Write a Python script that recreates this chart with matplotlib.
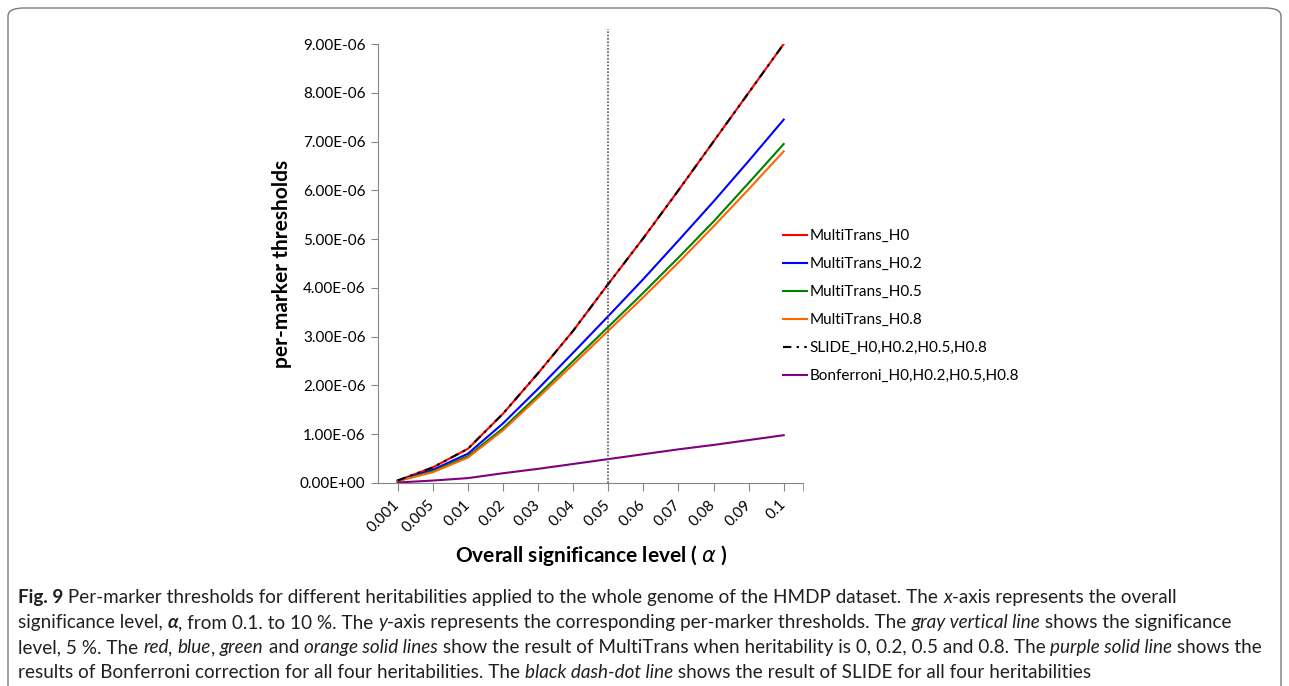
import matplotlib
matplotlib.use('Agg')
import matplotlib.pyplot as plt
from matplotlib.patches import FancyBboxPatch
from matplotlib.ticker import FixedLocator

# categories on the x axis (overall significance level)
alphas = ['0.001', '0.005', '0.01', '0.02', '0.03', '0.04', '0.05',
          '0.06', '0.07', '0.08', '0.09', '0.1']

# per-marker thresholds
multitrans_h0 = [0.05e-6, 0.32e-6, 0.70e-6, 1.42e-6, 2.25e-6, 3.12e-6, 4.08e-6,
                 5.02e-6, 6.00e-6, 7.00e-6, 8.00e-6, 9.00e-6]
multitrans_h02 = [0.05e-6, 0.27e-6, 0.60e-6, 1.22e-6, 1.93e-6, 2.67e-6, 3.42e-6,
                  4.18e-6, 4.97e-6, 5.77e-6, 6.60e-6, 7.45e-6]
multitrans_h05 = [0.04e-6, 0.24e-6, 0.55e-6, 1.12e-6, 1.80e-6, 2.50e-6, 3.20e-6,
                  3.90e-6, 4.62e-6, 5.36e-6, 6.15e-6, 6.95e-6]
multitrans_h08 = [0.04e-6, 0.22e-6, 0.52e-6, 1.08e-6, 1.75e-6, 2.43e-6, 3.12e-6,
                  3.81e-6, 4.52e-6, 5.26e-6, 6.02e-6, 6.80e-6]
slide_all = [0.05e-6, 0.32e-6, 0.70e-6, 1.42e-6, 2.25e-6, 3.12e-6, 4.08e-6,
             5.02e-6, 6.00e-6, 7.00e-6, 8.00e-6, 9.00e-6]
bonferroni_all = [0.01e-6, 0.05e-6, 0.10e-6, 0.20e-6, 0.29e-6, 0.39e-6, 0.49e-6,
                  0.59e-6, 0.69e-6, 0.78e-6, 0.88e-6, 0.98e-6]
yticks = [i * 1e-6 for i in range(10)]

W, H = 1289, 686
fig = plt.figure(figsize=(W / 100, H / 100), dpi=100)
ax = fig.add_axes([378 / W, 1 - 483 / H, (803 - 378) / W, (483 - 44) / H])

chart_font = ['Lato', 'DejaVu Sans']
xs = list(range(len(alphas)))

ax.plot(xs, multitrans_h0, color='#ff0000', lw=1.5, label='MultiTrans_H0')
ax.plot(xs, multitrans_h02, color='#0000ff', lw=1.5, label='MultiTrans_H0.2')
ax.plot(xs, multitrans_h05, color='#008000', lw=1.5, label='MultiTrans_H0.5')
ax.plot(xs, multitrans_h08, color='#ff6600', lw=1.5, label='MultiTrans_H0.8')
ax.plot(xs, slide_all, color='black', lw=1.5, dashes=(4, 2.5, 1.2, 2.5, 1.2, 2.5),
        label='SLIDE_H0,H0.2,H0.5,H0.8')
ax.plot(xs, bonferroni_all, color='#800080', lw=1.5, label='Bonferroni_H0,H0.2,H0.5,H0.8')

# gray vertical line at 5 %
ix = alphas.index('0.05')
ax.plot([ix, ix], [0, 9.3e-6], color='#555555', lw=1.2, ls=(0, (1, 1)), clip_on=False)

ax.set_xlim(-0.56, 11.55)
ax.set_ylim(0, 9e-6)
ax.set_xticks(xs)
ax.xaxis.set_minor_locator(FixedLocator([11.55]))
ax.set_xticklabels(alphas, rotation=45, ha='right', va='center',
                   rotation_mode='anchor', family=chart_font, fontsize=11)
ax.set_yticks(yticks)
ax.set_yticklabels(['{:.2E}'.format(v) for v in yticks], family=chart_font, fontsize=11)

for s in ['top', 'right']:
    ax.spines[s].set_visible(False)
for s in ['left', 'bottom']:
    ax.spines[s].set_color('#868686')
ax.tick_params(axis='both', which='both', color='#868686', direction='out')
ax.tick_params(axis='x', which='both', length=6, pad=8)
ax.tick_params(axis='y', length=5, pad=4)
ax.set_facecolor('none')

ax.set_ylabel('per-marker thresholds', family=chart_font, fontsize=15,
              fontweight='bold', labelpad=6)
fig.text(591 / W, 1 - 555 / H, r'Overall significance level ( $\mathit{\alpha}$ )',
         family=chart_font, fontsize=15, fontweight='bold', ha='center', va='center')

leg = fig.legend(loc='upper left', bbox_to_anchor=(783 / W, 1 - 229 / H),
                 frameon=False, prop={'family': chart_font, 'size': 11},
                 handlelength=1.6, handletextpad=0.15, labelspacing=0.92,
                 borderaxespad=0, borderpad=0)

# rounded frame around figure + caption
frame = FancyBboxPatch((8 / W, -0.05), (1281 - 8) / W, (686 - 8) / H + 0.05,
                       boxstyle='round,pad=0,rounding_size=0.012',
                       transform=fig.transFigure, fill=False, ec='#7a7a7a', lw=1,
                       clip_on=False)
fig.patches.append(frame)

# caption with mixed styles
cap_font = ['Lato', 'DejaVu Sans']
n, b, i = 'normal', 'bold', 'italic'
lines = [
    [('Fig. 9', b, n), (' Per-marker thresholds for different heritabilities applied to the whole genome of the HMDP dataset. The ', n, n),
     ('x', n, i), ('-axis represents the overall', n, n)],
    [('significance level, ', n, n), ('\u03b1', b, i), (', from 0.1. to 10 %. The ', n, n), ('y', n, i),
     ('-axis represents the corresponding per-marker thresholds. The ', n, n), ('gray vertical line', n, i),
     (' shows the significance', n, n)],
    [('level, 5 %. The ', n, n), ('red', n, i), (', ', n, n), ('blue', n, i), (', ', n, n), ('green', n, i),
     (' and ', n, n), ('orange solid lines', n, i),
     (' show the result of MultiTrans when heritability is 0, 0.2, 0.5 and 0.8. The ', n, n),
     ('purple solid line', n, i), (' shows the', n, n)],
    [('results of Bonferroni correction for all four heritabilities. The ', n, n), ('black dash-dot line', n, i),
     (' shows the result of SLIDE for all four heritabilities', n, n)],
]
renderer = fig.canvas.get_renderer()


def draw_line(parts, x0, y, size):
    x = x0
    made = []
    for txt, wt, st in parts:
        t = fig.text(x / W, y / H, txt, fontsize=size, fontweight=wt, fontstyle=st,
                     family=cap_font, va='baseline', ha='left', color='#231f20')
        made.append(t)
        x += t.get_window_extent(renderer).width
    return x, made


# fit the font size so the longest line spans the caption width
size = 11.5
end, made = draw_line(lines[2], 18, -100, size)
for t in made:
    t.remove()
size = size * (1265 - 18) / (end - 18)

baselines = [603, 628, 653, 678]
for parts, yb in zip(lines, baselines):
    draw_line(parts, 18, H - yb, size)

fig.savefig('out.png', dpi=100)
